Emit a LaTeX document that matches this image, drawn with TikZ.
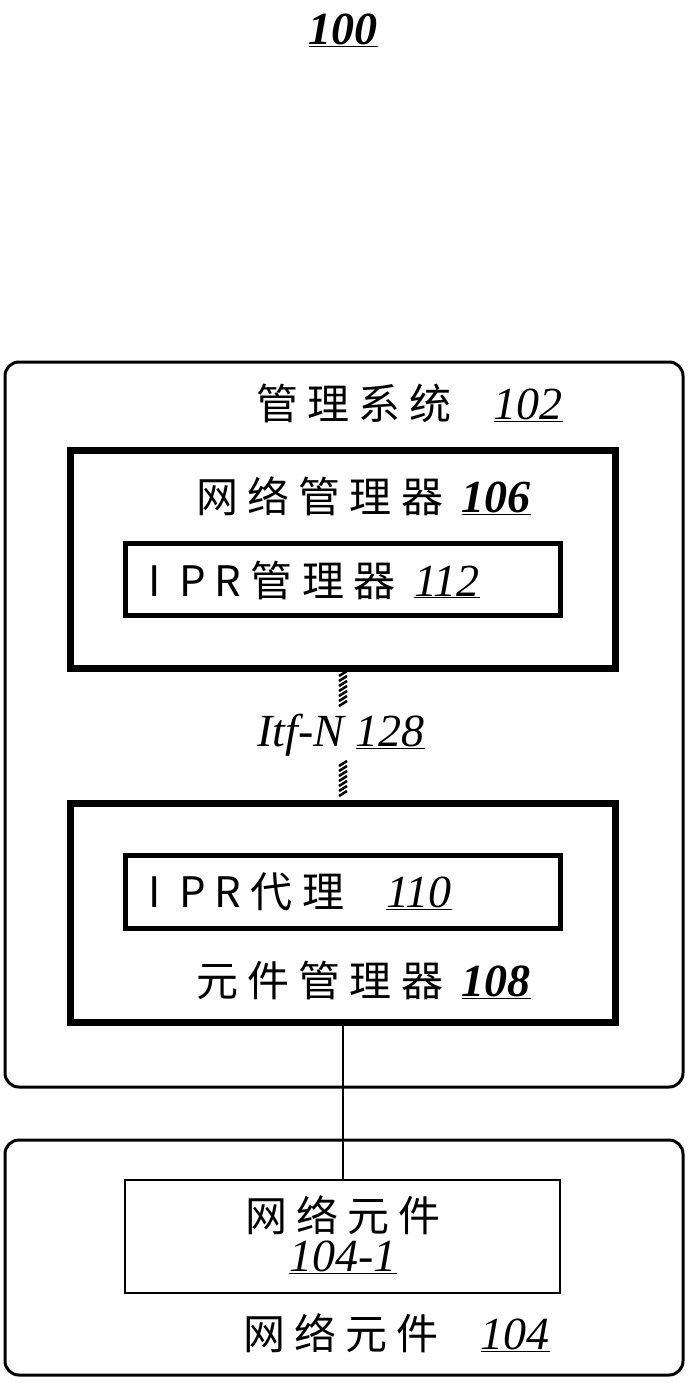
\documentclass[tikz,border=0pt]{standalone}
\usepackage{fontspec}
\usepackage{tikz}
\newfontfamily\cjk[LetterSpace=22]{Noto Sans CJK SC}
\newfontfamily\numfont{Liberation Serif}
\newcommand{\refno}[1]{\underline{\fontsize{46}{50}\selectfont\numfont\itshape #1}}
\newcommand{\refbold}[1]{\underline{\fontsize{46}{50}\selectfont\numfont\itshape\bfseries #1}}
\tikzset{
  outerbox/.style={draw, line width=3pt, rounded corners=14pt},
  heavybox/.style={draw, line width=7pt},
  innerbox/.style={draw, line width=5pt},
  thinbox/.style={draw, line width=2pt},
  lbl/.style={font=\fontsize{42}{48}\selectfont, inner sep=0pt}
}
\begin{document}
\begin{tikzpicture}[x=1pt,y=1pt,yscale=-1]
\useasboundingbox (0,0) rectangle (691,1383);

% Title
\node[lbl] (title) at (343,30) {\refbold{100}};

% Management system
\draw[outerbox] (5,362) rectangle (683,1087);
\node[lbl, anchor=west] (mgmt) at (256,403) {\cjk 管理系统\quad\refno{102}};

% Network manager
\draw[heavybox] (70,450) rectangle (615,668);
\node[lbl, anchor=west] (nm) at (196,496) {\cjk 网络管理器\ \refbold{106}};
\draw[innerbox] (125,543) rectangle (560,615);
\node[lbl, anchor=west] (iprm) at (148,580) {\cjk I PR管理器\ \refno{112}};

% Itf-N connection
\foreach \y in {671,676,...,701} \draw[line width=2.5pt] (339,\y+5) -- (347,\y);
\foreach \y in {761,766,...,794} \draw[line width=2.5pt] (339,\y+5) -- (347,\y);
\node[lbl] (itf) at (341,735) {\fontsize{46}{50}\selectfont\numfont\itshape Itf-N \refno{128}};

% Element manager
\draw[heavybox] (70,803) rectangle (615,1022);
\draw[innerbox] (125,855) rectangle (560,928);
\node[lbl, anchor=west] (ipra) at (148,892) {\cjk I PR代理\quad\refno{110}};
\node[lbl, anchor=west] (em) at (196,980) {\cjk 元件管理器\ \refbold{108}};

% Network element
\coordinate (emb) at (343,1025);
\coordinate (net) at (343,1180);
\draw[line width=2pt] (emb) -- (net);
\draw[outerbox] (5,1140) rectangle (683,1375);
\draw[thinbox] (125,1180) rectangle (560,1293);
\node[lbl] (ne1) at (343,1215) {\cjk 网络元件};
\node[lbl] (ne1n) at (343,1257) {\refno{104-1}};
\node[lbl, anchor=west] (ne) at (243,1333) {\cjk 网络元件\quad\refno{104}};
\end{tikzpicture}
\end{document}
